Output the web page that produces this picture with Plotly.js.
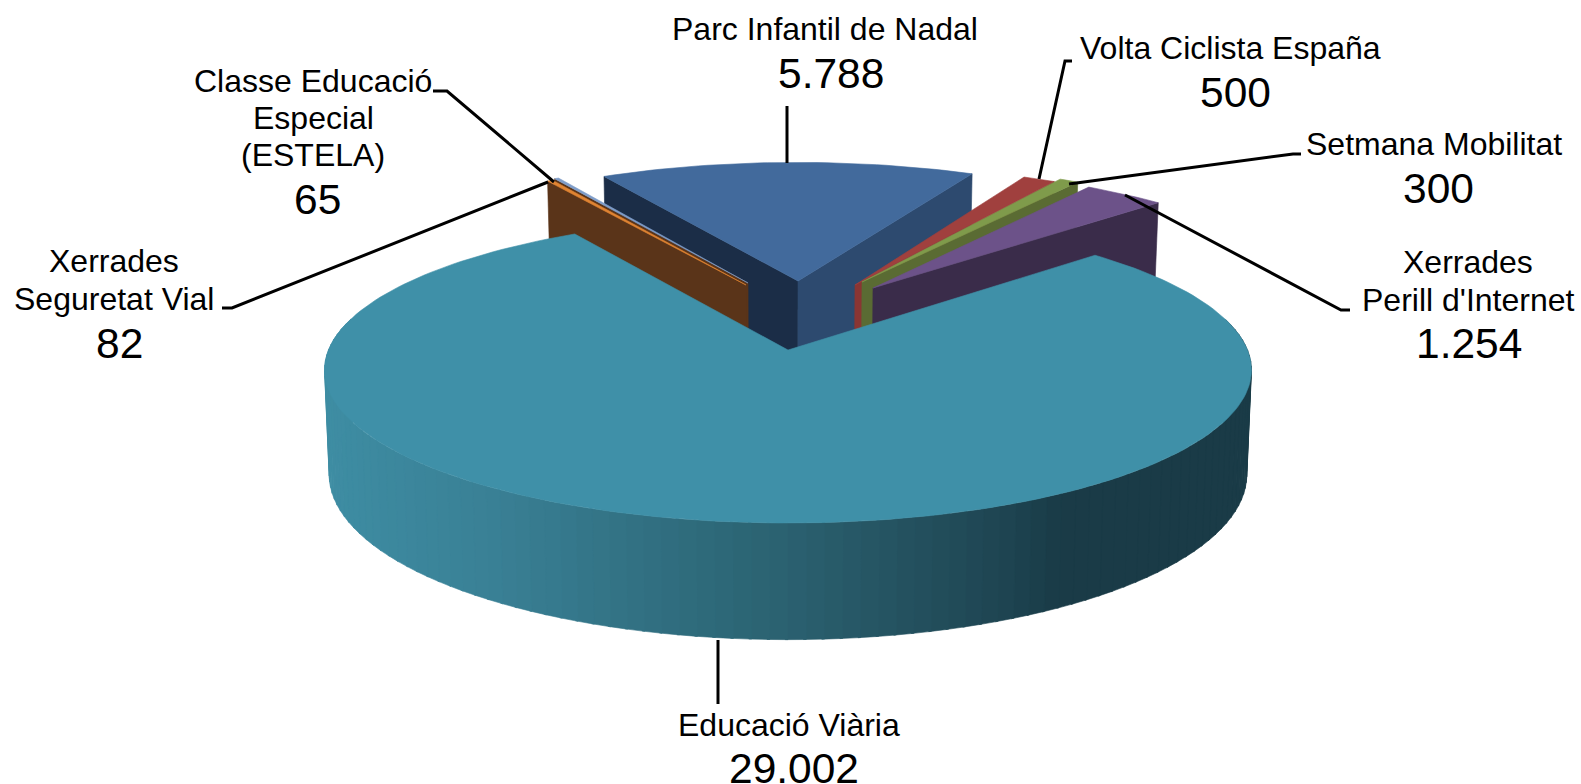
<!DOCTYPE html>
<html>
<head>
<meta charset="utf-8">
<script src="https://cdn.plot.ly/plotly-3.0.1.min.js"></script>
<style>html,body{margin:0;padding:0;background:#fff}#chart{width:1581px;height:784px}</style>
</head>
<body>
<div id="chart"></div>
<script>
// ---- data (clockwise, starting at the big slice)
const categories = ["Educació Viària","Xerrades<br>Seguretat Vial","Classe Educació<br>Especial<br>(ESTELA)","Parc Infantil de Nadal","Volta Ciclista España","Setmana Mobilitat","Xerrades<br>Perill d'Internet"];
const values = [29002,82,65,5788,500,300,1254];

// ---- styling
const topColors  = ["#3F90A8","#E08433","#7F9DC9","#426A9C","#A0403E","#7F9B4B","#6C5289"];
const leftWall   = [null,"#5A3419","#5A3419","#1B2D47",null,null,null];
const rightWall  = [null,null,null,"#2D4A6F","#8A3533","#5A6B33","#3A2C4A"];
const apexX = [788,746,748,798,855,862,873];
const apexY = [350,285,283,281,285,282,288];
const drawOrder = [3,2,1,4,5,6,0];
const labelX  = [789,114,313,825,1230,1434,1468];
const labelY  = [725,280,118,29,48,144,281];
const valueX  = [794,119,317,831,1235,1438,1469];
const valueY  = [768,343,199,73,92,188,343];
const leaderX = [[718,718],[548,232,222],[554,447,433],[787,787],[1039,1065,1072],[1069,1293,1301],[1125,1341,1350]];
const leaderY = [[640,704],[182,308,308],[182,91,91],[163,106],[179,61,61],[184,154,154],[195,310,310]];

// ---- projection of the tilted disc
const CX=788, CY=350, K=459.5, KS=150.5, P=0.13, H=104, BOTTOM=1.01, START=46.7;
function project(x,y,z){
  const w=(1+P*y)*(z?BOTTOM:1);
  return [CX+K*x/w, CY-KS*y/w+(z?H/w:0)];
}
function apexWorld(sx,sy){
  const t=(CY-sy)/KS, y=t/(1-P*t), w=1+P*y;
  return [(sx-CX)*w/K, y];
}
const total=values.reduce((a,b)=>a+b,0);
let ang=START; const slices=values.map((v,i)=>{
  const a0=ang, a1=ang+v/total*360; ang=a1;
  return {i,a0,a1,c:apexWorld(apexX[i],apexY[i])};
});
const rim=(s,deg)=>[s.c[0]+Math.sin(deg*Math.PI/180), s.c[1]+Math.cos(deg*Math.PI/180)];

const traces=[];
function poly(pts,color){
  traces.push({type:"scatter",mode:"lines",x:pts.map(p=>p[0]).concat(pts[0][0]),y:pts.map(p=>p[1]).concat(pts[0][1]),
    fill:"toself",fillcolor:color,line:{color:color,width:0.6},hoverinfo:"skip",showlegend:false});
}
function wall(s,deg,color){
  const r=rim(s,deg);
  poly([project(s.c[0],s.c[1],0),project(r[0],r[1],0),project(r[0],r[1],1),project(s.c[0],s.c[1],1)],color);
}
function topFace(s,color){
  const pts=[project(s.c[0],s.c[1],0)];
  const n=Math.max(4,Math.ceil((s.a1-s.a0)/1.5));
  for(let j=0;j<=n;j++){const r=rim(s,s.a0+(s.a1-s.a0)*j/n);pts.push(project(r[0],r[1],0));}
  poly(pts,color);
}
const wallX=[324,500,720,800,1000,1060,1251];
const wallC=[[62,141,163],[57,127,148],[45,104,120],[42,95,110],[30,69,82],[26,59,71],[26,59,71]];
function wallColor(x){
  let j=0; while(j<wallX.length-2&&x>wallX[j+1])j++;
  const f=Math.min(1,Math.max(0,(x-wallX[j])/(wallX[j+1]-wallX[j])));
  return "rgb("+[0,1,2].map(c=>Math.round(wallC[j][c]+(wallC[j+1][c]-wallC[j][c])*f)).join(",")+")";
}
function frontWall(s){
  const from=78,to=282,n=102;
  for(let j=0;j<n;j++){
    const a=from+(to-from)*j/n,b=from+(to-from)*(j+1)/n+0.3;
    const r0=rim(s,a),r1=rim(s,b);
    const p0=project(r0[0],r0[1],0),p1=project(r1[0],r1[1],0);
    poly([p0,p1,project(r1[0],r1[1],1),project(r0[0],r0[1],1)],wallColor((p0[0]+p1[0])/2));
  }
}
drawOrder.forEach(i=>{
  const s=slices[i];
  if(i===0) frontWall(s);
  if(leftWall[i]) wall(s,s.a0,leftWall[i]);
  if(rightWall[i]) wall(s,s.a1,rightWall[i]);
  topFace(s,topColors[i]);
});
leaderX.forEach((xs,i)=>traces.push({type:"scatter",mode:"lines",x:xs,y:leaderY[i],line:{color:"#000",width:3},hoverinfo:"skip",showlegend:false}));

const fmt=v=>String(v).replace(/\B(?=(\d{3})+$)/g,".");
const FONT="Liberation Sans, Arial, sans-serif", LINE=37.3;
const annotations=[];
categories.forEach((c,i)=>{
  const lines=c.split("<br>");
  lines.forEach((t,j)=>annotations.push({x:labelX[i],y:labelY[i]+(j-(lines.length-1)/2)*LINE,xref:"x",yref:"y",text:t,showarrow:false,xanchor:"center",yanchor:"middle",
    font:{family:FONT,size:32,color:"#000"}}));
  annotations.push({x:valueX[i],y:valueY[i],xref:"x",yref:"y",text:fmt(values[i]),showarrow:false,xanchor:"center",yanchor:"middle",
    font:{family:FONT,size:42.5,color:"#000"}});
});
Plotly.newPlot("chart",traces,{
  width:1581,height:784,margin:{l:0,r:0,t:0,b:0},paper_bgcolor:"#fff",plot_bgcolor:"#fff",showlegend:false,
  xaxis:{range:[0,1581],visible:false,fixedrange:true},
  yaxis:{range:[784,0],visible:false,fixedrange:true},
  annotations:annotations
},{displayModeBar:false,staticPlot:true});
</script>
</body>
</html>
